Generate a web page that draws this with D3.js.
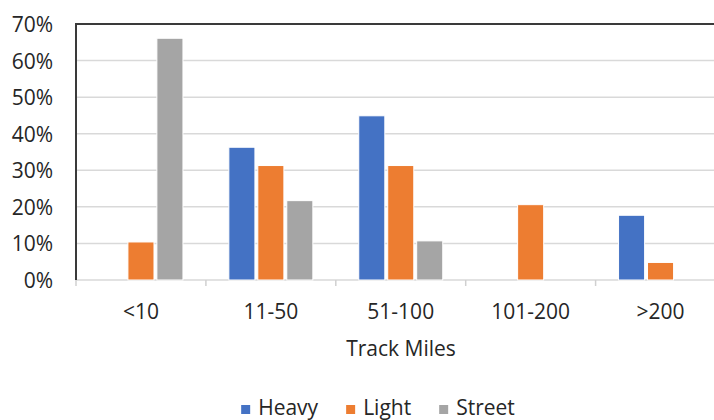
<!DOCTYPE html>
<html>
<head>
<meta charset="utf-8">
<script src="https://cdn.jsdelivr.net/npm/d3@7"></script>
<style>
  html, body { margin: 0; padding: 0; background: #fff; }
  svg { display: block; }
  text { font-family: "Open Sans", sans-serif; fill: #262626; }
</style>
</head>
<body>
<svg id="chart" width="714" height="420"></svg>
<script>
const categories = ["<10", "11-50", "51-100", "101-200", ">200"];
const seriesNames = ["Heavy", "Light", "Street"];
const heavy  = [0,     0.363, 0.449, 0,     0.177];
const light  = [0.104, 0.313, 0.313, 0.206, 0.048];
const street = [0.661, 0.217, 0.107, 0,     0];
const yTicks = [0, 0.1, 0.2, 0.3, 0.4, 0.5, 0.6, 0.7];
const xTitle = "Track Miles";
const colors = ["#4472C4", "#ED7D31", "#A5A5A5"];

(function () {
const seriesValues = [heavy, light, street];
const rows = categories.map((c, i) => ({
  cat: c,
  vals: seriesNames.map((s, j) => ({ key: s, value: seriesValues[j][i] }))
}));

const svg = d3.select("#chart");
const pLeft = 76, pTop = 24, pBottom = 280, pRight = 725.5;

const x0 = d3.scaleBand().domain(categories).range([pLeft, pRight]).paddingInner(0).paddingOuter(0);
const gw = 84;
const x1 = d3.scaleBand().domain(seriesNames)
  .range([(x0.bandwidth() - gw) / 2, (x0.bandwidth() + gw) / 2]).paddingInner(0.1);
const y = d3.scaleLinear().domain([0, 0.7]).range([pBottom, pTop]);
const color = d3.scaleOrdinal().domain(seriesNames).range(colors);

// gridlines
svg.append("g").selectAll("line").data(yTicks.filter(t => t > 0 && t < 0.7)).join("line")
  .attr("x1", pLeft).attr("x2", 714)
  .attr("y1", d => y(d)).attr("y2", d => y(d))
  .attr("stroke", "#d9d9d9").attr("stroke-width", 1.5);

// bottom axis
const gx = svg.append("g").attr("transform", `translate(0,${pBottom})`);
gx.append("line").attr("x1", pLeft).attr("x2", 714).attr("y1", 0).attr("y2", 0)
  .attr("stroke", "#d9d9d9").attr("stroke-width", 1.5);
gx.selectAll("line.tk").data(categories).join("line").attr("class", "tk")
  .attr("x1", d => x0(d)).attr("x2", d => x0(d)).attr("y1", 0).attr("y2", 6)
  .attr("stroke", "#d0d0d0").attr("stroke-width", 1.5);
gx.selectAll("text.lbl").data(categories).join("text").attr("class", "lbl")
  .attr("x", d => x0(d) + x0.bandwidth() / 2).attr("y", 39)
  .attr("text-anchor", "middle").style("font-size", "21px").text(d => d);

// bars
svg.append("g").selectAll("g").data(rows).join("g")
  .attr("transform", d => `translate(${x0(d.cat)},0)`)
  .selectAll("rect").data(d => d.vals.filter(v => v.value > 0)).join("rect")
  .attr("x", d => x1(d.key)).attr("width", x1.bandwidth())
  .attr("y", d => y(d.value)).attr("height", d => y(0) - y(d.value))
  .attr("fill", d => color(d.key)).attr("stroke", "#fff").attr("stroke-width", 1);

// plot border top + left axis
svg.append("line").attr("x1", pLeft).attr("x2", 714).attr("y1", pTop).attr("y2", pTop)
  .attr("stroke", "#3a3a3a").attr("stroke-width", 2);
svg.append("line").attr("x1", pLeft).attr("x2", pLeft).attr("y1", pTop - 1).attr("y2", pBottom)
  .attr("stroke", "#3a3a3a").attr("stroke-width", 2);

// y labels
const yAxis = d3.axisLeft(y).tickValues(yTicks).tickFormat(d3.format(".0%")).tickSize(0).tickPadding(0);
const gy = svg.append("g").attr("transform", `translate(53,0)`).call(yAxis);
gy.select(".domain").remove();
gy.selectAll("text").style("font-size", "21px").style("font-family", "'Open Sans', sans-serif")
  .attr("fill", "#262626").attr("dy", "0.36em");

// x title
svg.append("text").attr("x", 401).attr("y", 356).attr("text-anchor", "middle")
  .style("font-size", "21px").text(xTitle);

// legend
const lg = svg.append("g");
let cx = 0;
seriesNames.forEach((s) => {
  const g = lg.append("g");
  g.append("rect").attr("x", 0).attr("y", -10).attr("width", 9).attr("height", 9).attr("fill", color(s));
  const t = g.append("text").attr("x", 17).attr("y", 0).style("font-size", "21px").text(s);
  const w = 17 + t.node().getComputedTextLength();
  g.attr("transform", `translate(${cx},0)`);
  cx += w + 28;
});
const totalW = cx - 28;
lg.attr("transform", `translate(${378 - totalW / 2},415)`);
})();
</script>
</body>
</html>
